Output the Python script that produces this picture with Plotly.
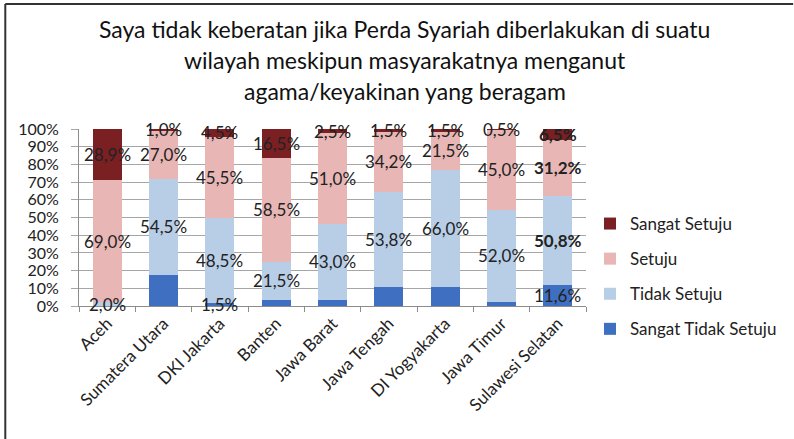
import plotly.graph_objects as go

categories = ["Aceh", "Sumatera Utara", "DKI Jakarta", "Banten", "Jawa Barat",
              "Jawa Tengah", "DI Yogyakarta", "Jawa Timur", "Sulawesi Selatan"]
sangat_tidak_setuju = [0.0, 17.5, 1.5, 3.5, 3.5, 10.5, 11.0, 2.5, 11.6]
tidak_setuju = [2.0, 54.5, 48.5, 21.5, 43.0, 53.8, 66.0, 52.0, 50.8]
setuju = [69.0, 27.0, 45.5, 58.5, 51.0, 34.2, 21.5, 45.0, 31.2]
sangat_setuju = [28.9, 1.0, 4.5, 16.5, 2.5, 1.5, 1.5, 0.5, 6.5]

# which labels are shown in the original
show_sts = [False, False, True, False, False, False, False, False, True]
bold_cat = ["Sulawesi Selatan"]

title_lines = ["Saya tidak keberatan jika Perda Syariah diberlakukan di suatu",
               "wilayah meskipun masyarakatnya menganut",
               "agama/keyakinan yang beragam"]

FONT = "Lato, 'Open Sans', sans-serif"


def fmt(v):
    return f"{v:.1f}".replace(".", ",") + "%"


series = [
    # name, values, colour, show flags, bold allowed, legend rank
    ("Sangat Tidak Setuju", sangat_tidak_setuju, "#3f6fc0", show_sts, False, 4),
    ("Tidak Setuju", tidak_setuju, "#b8cde6", None, True, 3),
    ("Setuju", setuju, "#e8b6b5", None, True, 2),
    ("Sangat Setuju", sangat_setuju, "#7a1f22", None, True, 1),
]

W, H = 794, 439
L, R, T, B = 79, 206, 129, 133
pw, ph = W - L - R, H - T - B

fig = go.Figure()
annotations = []
base = [0.0] * len(categories)
for name, vals, col, show, bold_ok, rank in series:
    fig.add_trace(go.Bar(
        name=name, x=categories, y=vals, marker_color=col,
        marker_line_width=0, legendgroup=name, legendrank=rank,
    ))
    for i, v in enumerate(vals):
        if (show is not None and not show[i]) or v <= 0:
            continue
        t = fmt(v)
        if bold_ok and categories[i] in bold_cat:
            t = "<b>" + t + "</b>"
        annotations.append(dict(
            x=categories[i], y=base[i] + v / 2, xref="x", yref="y",
            text=t, showarrow=False,
            font=dict(family=FONT, size=17, color="#222222"),
        ))
    base = [b + v for b, v in zip(base, vals)]

# title lines
title_y = [29, 60, 91]
for line, yy in zip(title_lines, title_y):
    annotations.append(dict(
        x=(406 - L) / pw, xref="paper", y=1 + (T - yy) / ph, yref="paper",
        text=line, showarrow=False, xanchor="center", yanchor="middle",
        font=dict(family=FONT, size=23, color="#111111"),
    ))

fig.update_layout(
    width=W, height=H,
    barmode="stack", bargap=0.49,
    plot_bgcolor="white", paper_bgcolor="white",
    margin=dict(l=L, r=R, t=T, b=B),
    font=dict(family=FONT, size=17, color="#222222"),
    showlegend=True,
    legend=dict(x=(592 - L) / pw, xanchor="left", y=(306 - 206) / ph, yanchor="top",
                traceorder="grouped", tracegroupgap=10,
                font=dict(family=FONT, size=17, color="#222222"),
                itemwidth=30),
    xaxis=dict(showgrid=False, showline=True, linecolor="#8c8c8c",
               ticks="outside", tickson="boundaries", ticklen=5, tickcolor="#8c8c8c",
               tickangle=-45, tickfont=dict(family=FONT, size=17)),
    yaxis=dict(range=[0, 100], dtick=10, ticksuffix="%", showgrid=True,
               gridcolor="#a6a6a6", gridwidth=1, showline=True, linecolor="#8c8c8c",
               ticks="outside", ticklen=7, tickcolor="#a6a6a6",
               ticklabelstandoff=9,
               tickfont=dict(family=FONT, size=16), zeroline=False),
    annotations=annotations,
)

# outer frame: top and left lines
fig.add_shape(type="line", xref="paper", yref="paper",
              x0=(5 - L) / pw, x1=(W + 2 - L) / pw,
              y0=1 + (T - 4) / ph, y1=1 + (T - 4) / ph,
              line=dict(color="#333333", width=2))
fig.add_shape(type="line", xref="paper", yref="paper",
              x0=(5 - L) / pw, x1=(5 - L) / pw,
              y0=1 + (T - 4) / ph, y1=-(H + 2 - T - ph) / ph,
              line=dict(color="#333333", width=2))

fig.write_html("out.html", config={"displayModeBar": False},
               post_script="document.body.style.margin='0';")
